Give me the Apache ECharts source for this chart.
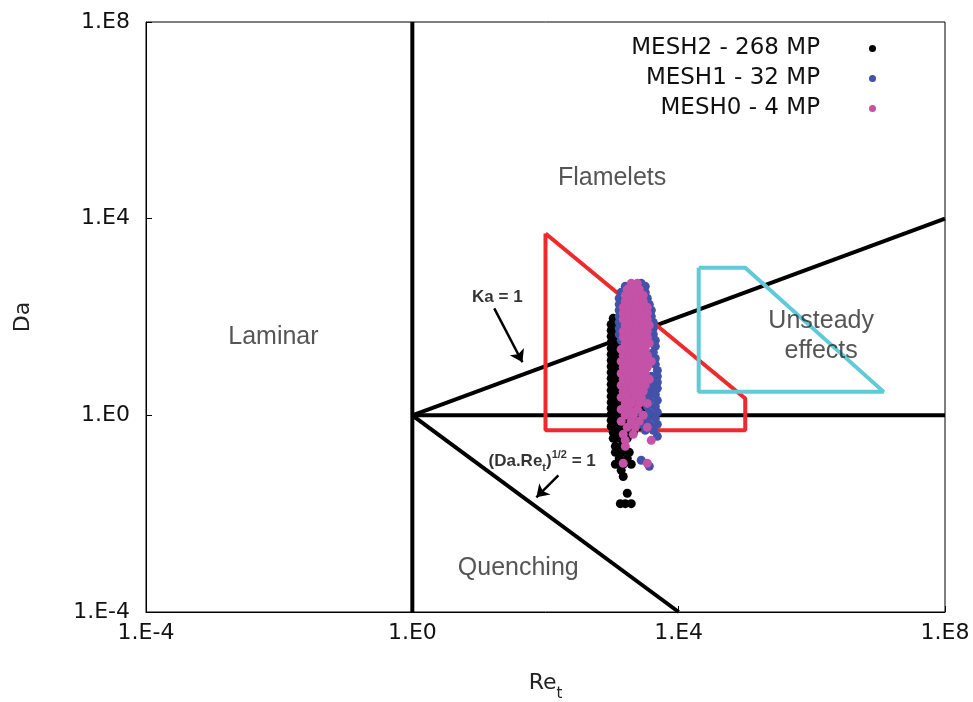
<!DOCTYPE html>
<html><head><meta charset="utf-8">
<script src="https://cdn.jsdelivr.net/npm/echarts@6/dist/echarts.min.js"></script>
<style>html,body{margin:0;padding:0;background:#fff}#c{width:973px;height:702px}</style>
</head><body><div id="c"></div>
<script>
// ---- axis ticks ----
const tickValues = [1e-4, 1, 1e4, 1e8];
const tickLabels = ['1.E-4', '1.E0', '1.E4', '1.E8'];

// ---- regime boundary lines [Re_t, Da] ----
const reOneLine = [[1, 1e-4], [1, 1e8]];
const daOneLine = [[1, 1], [1e8, 1]];
const kaOneLine = [[1, 1], [1e8, 1e4]];
const quenchLine = [[1, 1], [1e4, 1e-4]];
const redZone = [[100, 5000], [100, 0.5], [1e5, 0.5], [1e5, 2.2], [100, 5000]];
const cyanZone = [[2e4, 1e3], [1e5, 1e3], [1.2e7, 3], [2e4, 3], [2e4, 1e3]];

// ---- scatter rows: [Da, [Re_t values...]] ----
const mesh2Rows = [
  [94, [1040]],
  [71, [970, 1200]], [53.6, [970, 1200]], [40.4, [970, 1200]], [30.5, [970, 1200]],
  [23.1, [970, 1200]], [17.4, [970, 1200]], [13.1, [970, 1200]], [9.9, [970, 1200]],
  [7.5, [970, 1200]], [5.65, [970, 1200]], [4.27, [970, 1200]],
  [3.22, [970, 1200, 1580]], [2.43, [970, 1200, 1580, 2080]], [1.84, [970, 1200, 1580, 2080]],
  [1.39, [970, 1200, 1470, 2080, 2740]], [1.05, [970, 1200, 1580, 2230, 2940]],
  [0.79, [970, 1200, 1470, 1810, 2390, 3150]], [0.597, [970, 1200, 1470, 1940, 2560]],
  [0.451, [1040, 1280, 1580, 2080]], [0.34, [1040, 1280, 1690]],
  [0.234, [1120, 1370]], [0.177, [1120, 1370, 1810]], [0.133, [1280, 1690]],
  [0.101, [1120, 1470, 1940]], [0.076, [1370]], [0.057, [1470]],
  [0.026, [1690]], [0.016, [1330, 1580, 1940]]
];
const mesh1Rows = [
  [484, [2740]], [420, [1580, 3150]], [317, [1370, 1690, 3150]], [240, [1280, 3380]],
  [181, [1280, 3620]], [137, [1280, 3880]], [103, [1280, 3880]], [77.9, [1280, 4160]],
  [58.8, [1280, 4160]], [44.4, [1280, 4160]], [33.5, [1370, 4460]], [25.3, [4460]],
  [19.1, [4160]], [14.4, [4460]], [10.9, [4460]], [8.2, [4780]], [6.2, [3880, 4780]],
  [4.7, [3880, 4780]], [3.54, [3880, 4780]], [2.67, [2940, 3620, 4460]],
  [2.02, [2740, 3620, 4780]], [1.52, [3380, 4460]], [1.15, [2560, 3620, 4780]],
  [0.87, [3380, 4460]], [0.656, [2740, 3620, 4780]], [0.495, [3150, 4160]],
  [0.374, [4780]], [0.122, [2740]], [0.092, [3620]]
];
const mesh0Rows = [
  [484, [1940, 2390]], [365, [1690, 2080, 2560]], [276, [1580, 1940, 2390, 2940]],
  [208, [1580, 1940, 2390, 2940]], [157, [1470, 1810, 2230, 2740, 3380]],
  [119, [1470, 1810, 2230, 2740, 3380]], [89.6, [1470, 1810, 2230, 2740, 3380]],
  [67.7, [1580, 1940, 2390, 2940, 3620]], [51.1, [1470, 1810, 2230, 2740, 3380]],
  [38.6, [1470, 1810, 2230, 2740, 3380]], [29.1, [1580, 1940, 2390, 2940, 3620]],
  [22, [1370, 1690, 2080, 2560, 3150]], [16.6, [1470, 1810, 2230, 2740, 3380]],
  [12.5, [1370, 1690, 2080, 2560, 3150, 3880]], [9.5, [1470, 1810, 2230, 2740, 3380]],
  [7.1, [1370, 1690, 2080, 2560, 3150]], [5.4, [1470, 1810, 2230, 2740, 3620]],
  [4.07, [1370, 1690, 2080, 2560, 3150]], [3.08, [1470, 1940, 2390, 2940]],
  [2.32, [1370, 1690, 2230, 2740]], [1.75, [1580, 1940, 2560, 3380]],
  [1.32, [1370, 1810, 2390]], [1.0, [1580, 2080, 2940]], [0.755, [1370, 1940, 2560]],
  [0.57, [1690, 2230, 3380]], [0.411, [1470, 2080]], [0.31, [1580, 3880]],
  [0.234, [1580]], [0.106, [1470, 3380]]
];
const seriesNames = ['MESH2 - 268 MP', 'MESH1 - 32 MP', 'MESH0 - 4 MP'];
const seriesColors = ['#000000', '#4152a8', '#c452a6'];

// ---- annotations ----
const regimeNames = ['Flamelets', 'Laminar', 'Unsteady\neffects', 'Quenching'];
const regimePos = [[1000, 6.6e4], [8.2e-3, 38.6], [1.38e6, 40], [39, 7.7e-4]];
const lineNames = ['Ka = 1', '{b|(Da.Re}{sub|t}{b|)}{sup|1/2}{b| = 1}'];
const lineNamePos = [[18.9, 251], [89, 0.116]];
const arrows = [[[17, 150], [45, 12]], [[156, 0.060], [73, 0.0215]]];

function toPoints(rows) {
  const pts = [];
  rows.forEach(([da, res]) => res.forEach(re => pts.push([re, da])));
  return pts;
}
const fmtTick = v => {
  const i = tickValues.findIndex(t => Math.abs(Math.log10(t) - Math.log10(v)) < 1e-6);
  return i >= 0 ? tickLabels[i] : '';
};

const boundary = (data, color, w) => ({
  type: 'line', data, showSymbol: false, symbol: 'none', silent: true,
  lineStyle: { color, width: w }, animation: false, z: 2
});

const chart = echarts.init(document.getElementById('c'), null, { renderer: 'canvas' });
const allRows = [mesh2Rows, mesh1Rows, mesh0Rows];

chart.setOption({
  animation: false,
  backgroundColor: '#fff',
  grid: { left: 146, right: 28, top: 22, bottom: 90, show: true, borderColor: '#000', borderWidth: 1,
          containLabel: false, outerBoundsMode: 'none' },
  xAxis: {
    type: 'log', logBase: 10, min: 1e-4, max: 1e8, interval: 4,
    name: '{a|Re}{s|t}', nameLocation: 'middle', nameGap: 60,
    nameTextStyle: { rich: {
      a: { fontFamily: 'DejaVu Sans', fontSize: 22, color: '#222', lineHeight: 30, verticalAlign: 'top' },
      s: { fontFamily: 'DejaVu Sans', fontSize: 15, color: '#222', lineHeight: 30, verticalAlign: 'bottom' }
    } },
    axisLine: { lineStyle: { color: '#000', width: 1 } },
    axisTick: { inside: true, length: 6, lineStyle: { color: '#000' } },
    splitLine: { show: false }, minorTick: { show: false },
    axisLabel: { formatter: fmtTick, fontFamily: 'DejaVu Sans', fontSize: 22, color: '#111', margin: 10 }
  },
  yAxis: {
    type: 'log', logBase: 10, min: 1e-4, max: 1e8, interval: 4,
    name: 'Da', nameLocation: 'middle', nameGap: 112,
    nameTextStyle: { fontFamily: 'DejaVu Sans', fontSize: 22, color: '#222' },
    axisLine: { lineStyle: { color: '#000', width: 1 } },
    axisTick: { inside: true, length: 6, lineStyle: { color: '#000' } },
    splitLine: { show: false }, minorTick: { show: false },
    axisLabel: { formatter: fmtTick, fontFamily: 'DejaVu Sans', fontSize: 22, color: '#111', margin: 16 }
  },
  legend: {
    data: seriesNames, orient: 'vertical', right: 92, top: 32, align: 'right',
    itemWidth: 7, itemHeight: 7, itemGap: 7, icon: 'circle',
    textStyle: { fontFamily: 'DejaVu Sans', fontSize: 23, color: '#111', padding: [0, 44, 0, 0] }
  },
  series: [
    boundary(reOneLine, '#000', 4),
    boundary(daOneLine, '#000', 4),
    boundary(kaOneLine, '#000', 4),
    boundary(quenchLine, '#000', 4),
    boundary(redZone, '#ee2a2c', 4),
    boundary(cyanZone, '#5fcad8', 4),
    ...allRows.map((rows, i) => ({
      type: 'scatter', name: seriesNames[i], data: toPoints(rows),
      symbol: 'circle', symbolSize: 9, itemStyle: { color: seriesColors[i], opacity: 1 },
      z: 3 + i, animation: false
    })),
    {
      type: 'scatter', silent: true, z: 10, symbolSize: 0,
      data: regimePos.map((p, i) => ({ value: p, label: { formatter: regimeNames[i] } })),
      label: { show: true, position: 'inside', fontFamily: 'Liberation Sans', fontSize: 25, color: '#2a2a2a', lineHeight: 30 }
    },
    {
      type: 'scatter', silent: true, z: 10, symbolSize: 0,
      data: lineNamePos.map((p, i) => ({ value: p, label: { formatter: lineNames[i] } })),
      label: { show: true, position: 'inside', fontFamily: 'Liberation Sans', fontSize: 17, fontWeight: 'bold', color: '#000',
        rich: {
          b: { fontFamily: 'Liberation Sans', fontSize: 17, fontWeight: 'bold', color: '#000', lineHeight: 24 },
          sub: { fontFamily: 'Liberation Sans', fontSize: 11, fontWeight: 'bold', color: '#000', lineHeight: 24, verticalAlign: 'bottom' },
          sup: { fontFamily: 'Liberation Sans', fontSize: 11, fontWeight: 'bold', color: '#000', lineHeight: 24, verticalAlign: 'top' }
        } }
    },
    {
      type: 'lines', coordinateSystem: 'cartesian2d', silent: true, z: 10, animation: false,
      symbol: ['none', 'arrow'], symbolSize: 12,
      lineStyle: { color: '#000', width: 2.5, opacity: 1 },
      data: arrows.map(a => ({ coords: a }))
    }
  ]
});
</script>
</body></html>
